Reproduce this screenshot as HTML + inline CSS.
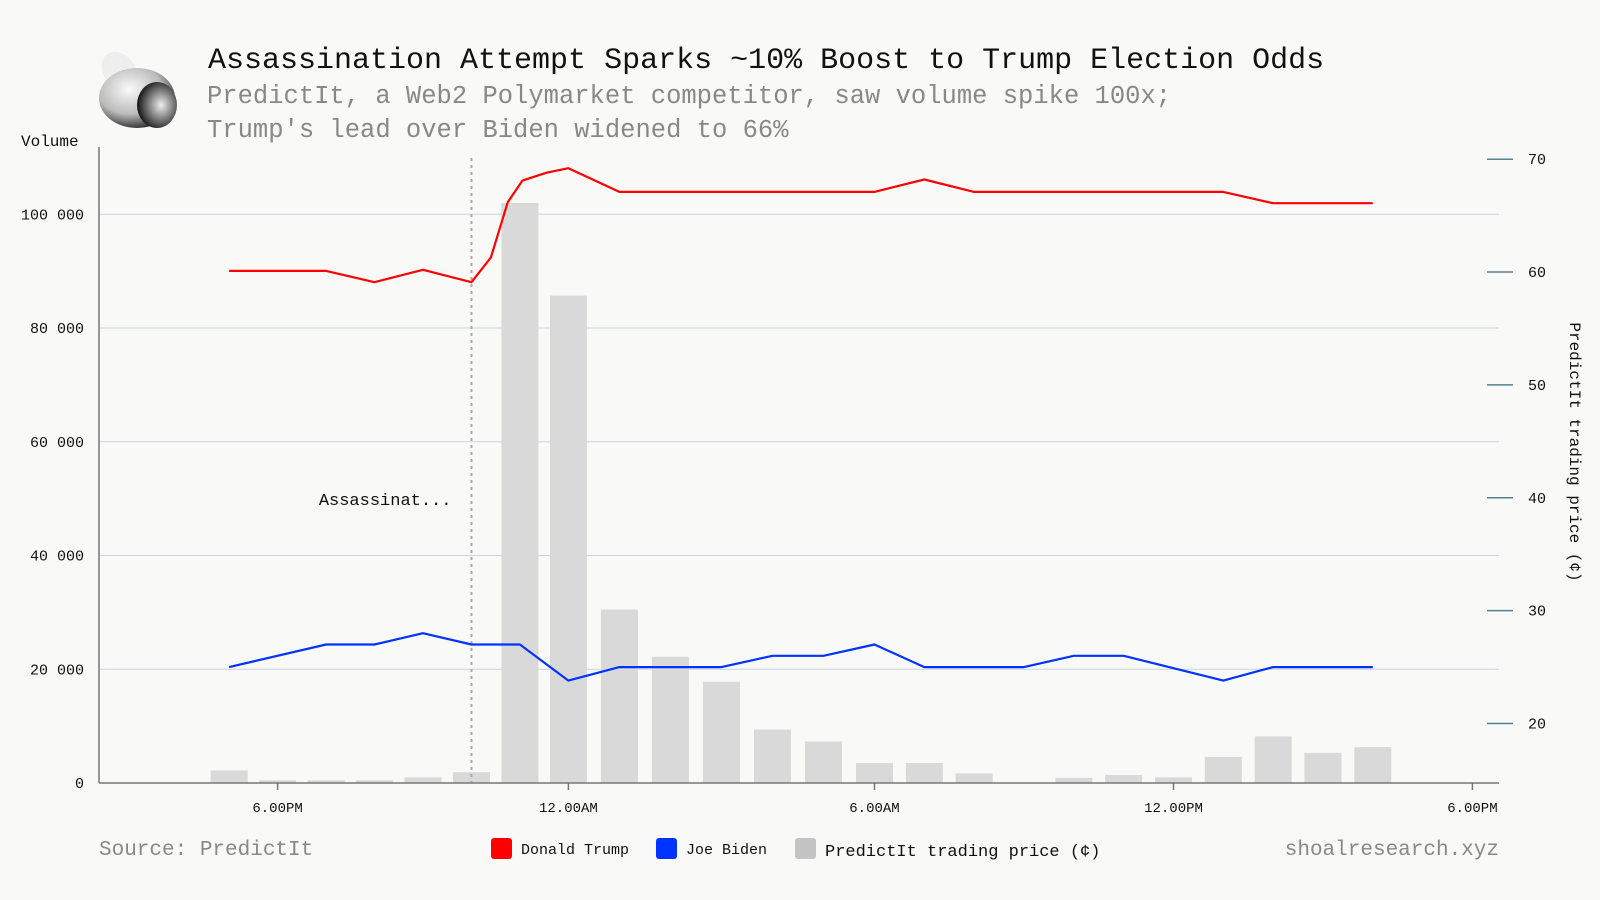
<!DOCTYPE html>
<html><head><meta charset="utf-8"><style>
body{margin:0;background:#f9f9f8;}
svg{display:block;font-family:"Liberation Mono",monospace;}
</style></head><body>
<svg id="c" width="1600" height="900">
<defs>
<radialGradient id="sg" cx="0.4" cy="0.35" r="0.7"><stop offset="0" stop-color="#fafafa"/><stop offset="0.6" stop-color="#bbb"/><stop offset="1" stop-color="#222"/></radialGradient>
<radialGradient id="ap" cx="0.6" cy="0.5" r="0.6"><stop offset="0" stop-color="#eee"/><stop offset="0.7" stop-color="#555"/><stop offset="1" stop-color="#111"/></radialGradient>
</defs>
<g>
<ellipse cx="120" cy="72" rx="16" ry="22" fill="#eee" transform="rotate(-35 120 72)"/>
<ellipse cx="137" cy="98" rx="38" ry="30" fill="url(#sg)"/>
<ellipse cx="157" cy="105" rx="20" ry="23" fill="url(#ap)"/>
</g>
<text x="208" y="68" font-size="30" fill="#111">Assassination Attempt Sparks ~10% Boost to Trump Election Odds</text>
<text x="207" y="103" font-size="25.5" fill="#888">PredictIt, a Web2 Polymarket competitor, saw volume spike 100x;</text>
<text x="207" y="137" font-size="25.5" fill="#888">Trump's lead over Biden widened to 66%</text>
<text x="21" y="146" font-size="16" fill="#111">Volume</text>
<g id="grid"></g><g id="bars"></g><g id="lines"></g><g id="axes"></g>
<text x="1570" y="452" font-size="16" fill="#111" text-anchor="middle" transform="rotate(90 1570 452)">PredictIt trading price (¢)</text>
<text x="99" y="855" font-size="21" fill="#888">Source: PredictIt</text>
<text x="1499" y="855" font-size="21" fill="#888" text-anchor="end">shoalresearch.xyz</text>
<g>
<g><rect x="491" y="838" width="21" height="21" rx="3" fill="#ff0000"/><text x="521" y="854" font-size="15" fill="#111">Donald Trump</text></g>
<g><rect x="656" y="838" width="21" height="21" rx="3" fill="#0033ff"/><text x="686" y="854" font-size="15" fill="#111">Joe Biden</text></g>
<g><rect x="795" y="838" width="21" height="21" rx="3" fill="#c4c4c4"/><text x="825" y="856" font-size="17" fill="#111">PredictIt trading price (¢)</text></g>
</g>
</svg>
<script>
const barHours=[-1,0,1,2,3,4,5,6,7,8,9,10,11,12,13,14,15,16,17,18,19,20,21,22];
const volumes=[2200,500,500,500,1000,1900,102000,85700,30500,22200,17800,9400,7300,3500,3500,1700,0,900,1400,1000,4600,8200,5300,6300];
const trumpHours=[-1,1,2,3,4,4.4,4.75,5.05,5.55,6,7,12,13,14,19,20,22];
const trumpPrices=[60.1,60.1,59.1,60.2,59.1,61.3,66.2,68.1,68.8,69.2,67.1,67.1,68.2,67.1,67.1,66.1,66.1];
const bidenHours=[-1,1,2,3,4,5,6,7,9,10,11,12,13,15,16,17,19,20,22];
const bidenPrices=[25,27,27,28,27,27,23.8,25,25,26,26,27,25,25,26,26,23.8,25,25];
const leftTicks=[0,20000,40000,60000,80000,100000];
const rightTicks=[20,30,40,50,60,70];
const xTickHours=[0,6,12,18,24];
const xTickLabels=["6.00PM","12.00AM","6.00AM","12.00PM","6.00PM"];
const eventHour=4;
const eventLabel="Assassinat...";
const NS="http://www.w3.org/2000/svg";
const knotPx=[277.6,568.4,874.5,1173.5,1472.4];
function X(h){let i=Math.min(Math.max(Math.floor(h/6),0),3);return knotPx[i]+(h-i*6)*(knotPx[i+1]-knotPx[i])/6;}
const YL=v=>783-v*(783-214.3)/100000;
const YR=p=>723.5-(p-20)*(723.5-159.2)/50;
function mk(tag,attrs,parent,text){const e=document.createElementNS(NS,tag);for(const k in attrs)e.setAttribute(k,attrs[k]);if(text!=null)e.textContent=text;parent.appendChild(e);return e;}
const grid=document.getElementById('grid'),bars=document.getElementById('bars'),lines=document.getElementById('lines'),axes=document.getElementById('axes');
leftTicks.forEach(v=>{
 if(v>0){const g=mk('line',{x1:99,x2:1499,y1:YL(v),y2:YL(v),stroke:'#c9d6e0','stroke-width':1},grid);
 
 }
 const t=mk('text',{x:84,y:YL(v)+5,'font-size':15,'text-anchor':'end',fill:'#111'},axes,v===0?'0':(v/1000)+' 000');
 
 
});
rightTicks.forEach(p=>{
 const l=mk('line',{x1:1487,x2:1513,y1:YR(p),y2:YR(p),stroke:'#5a8090','stroke-width':1.5},axes);
 
 
 const t=mk('text',{x:1528,y:YR(p)+5,'font-size':15,fill:'#111'},axes,p);
 
 
});
barHours.forEach((h,i)=>{
 const r=mk('rect',{x:X(h)-18.5,y:YL(volumes[i]),width:37,height:783-YL(volumes[i]),fill:'#d9d9d9'},bars);
 
 
});
const ev=mk('line',{x1:X(eventHour),x2:X(eventHour),y1:158,y2:783,stroke:'#aaa','stroke-width':2,'stroke-dasharray':'3,4'},lines);


const et=mk('text',{x:X(eventHour)-20,y:505,'font-size':17,'text-anchor':'end',fill:'#111'},lines,eventLabel);


function path(hs,ps,col,name){
 const d=hs.map((h,i)=>(i?'L':'M')+X(h).toFixed(1)+','+YR(ps[i]).toFixed(1)).join('');
 const p=mk('path',{d:d,fill:'none',stroke:col,'stroke-width':2.2,'stroke-linejoin':'round'},lines);
 
 
}
path(trumpHours,trumpPrices,'#ff0000','trump-line');
path(bidenHours,bidenPrices,'#0033ff','biden-line');
const ya=mk('line',{x1:99,x2:99,y1:147,y2:783,stroke:'#777','stroke-width':1.5},axes);


const xa=mk('line',{x1:99,x2:1499,y1:783,y2:783,stroke:'#777','stroke-width':1.5},axes);


xTickHours.forEach((h,i)=>{
 const l=mk('line',{x1:X(h),x2:X(h),y1:783,y2:790,stroke:'#777','stroke-width':1.5},axes);
 
 
 const t=mk('text',{x:X(h),y:812,'font-size':14,'text-anchor':'middle',fill:'#111'},axes,xTickLabels[i]);
 
 
});
</script>
</body></html>
